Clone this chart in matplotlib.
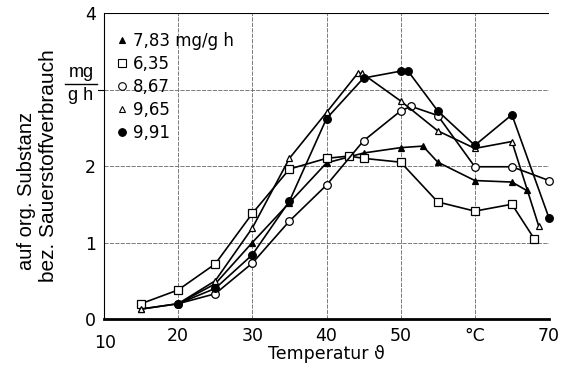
import matplotlib
matplotlib.use("Agg")
import matplotlib.pyplot as plt
from matplotlib.lines import Line2D

plt.rcParams["font.family"] = ["DejaVu Sans"]

# Sauerstoffverbrauch (mg/g h) ueber Temperatur, fuenf Versuchsreihen
t_783 = [15, 20, 25, 30, 35, 40, 45, 50, 53, 55, 60, 65, 67]
v_783 = [0.13, 0.20, 0.46, 1.00, 1.52, 2.04, 2.17, 2.24, 2.26, 2.05, 1.81, 1.79, 1.68]

t_635 = [15, 20, 25, 30, 35, 40, 43, 45, 50, 55, 60, 65, 68]
v_635 = [0.20, 0.38, 0.72, 1.38, 1.96, 2.10, 2.13, 2.10, 2.05, 1.53, 1.41, 1.50, 1.05]

t_867 = [20, 25, 30, 35, 40, 45, 50, 51.4, 55, 60, 65, 70]
v_867 = [0.20, 0.33, 0.73, 1.28, 1.75, 2.33, 2.72, 2.78, 2.66, 1.99, 1.99, 1.81]

t_965 = [15, 20, 25, 30, 35, 40, 44.2, 44.8, 50, 55, 60, 65, 68.6]
v_965 = [0.13, 0.20, 0.50, 1.19, 2.10, 2.70, 3.21, 3.21, 2.85, 2.46, 2.23, 2.32, 1.22]

t_991 = [20, 25, 30, 35, 40, 45, 50, 51, 55, 60, 65, 70]
v_991 = [0.20, 0.40, 0.84, 1.54, 2.62, 3.15, 3.24, 3.24, 2.72, 2.27, 2.67, 1.32]

series = [
    (t_783, v_783, "^", "k", "7,83 mg/g h"),
    (t_635, v_635, "s", "w", "6,35"),
    (t_867, v_867, "o", "w", "8,67"),
    (t_965, v_965, "^", "w", "9,65"),
    (t_991, v_991, "o", "k", "9,91"),
]
msize = {"^": 5.0, "s": 5.5, "o": 5.5}

fig = plt.figure(figsize=(5.66, 3.67), dpi=100)
ax = fig.add_axes([104 / 566, 48 / 367, 445 / 566, 306 / 367])
ax.set_xlim(10, 70)
ax.set_ylim(0, 4)

# gitter
for gx in [20, 30, 40, 50, 60, 70]:
    ax.axvline(gx, color="#666666", lw=0.6, ls=(0, (5, 1.5)), zorder=0)
for gy in [1, 2, 3]:
    ax.axhline(gy, color="#666666", lw=0.6, ls=(0, (5, 1.5)), zorder=0)
ax.axhline(4, color="k", lw=0.8, zorder=0)

handles = []
for t, v, m, fc, lab in series:
    ax.plot(t, v, color="k", lw=1.2, marker=m, ms=msize[m], mfc=fc,
            mec="k", mew=0.9, clip_on=False, zorder=3)
    handles.append(Line2D([], [], ls="none", marker=m, ms=msize[m],
                          mfc=fc, mec="k", mew=0.8))

leg = ax.legend(handles, [s[4] for s in series], loc="upper left",
                bbox_to_anchor=(0.0, 0.975), frameon=False, fontsize=12,
                handlelength=0.8, handletextpad=0.25, labelspacing=0.3,
                borderaxespad=0.3)

for side in ["top", "right"]:
    ax.spines[side].set_visible(False)
ax.spines["bottom"].set_linewidth(2.0)
ax.spines["left"].set_linewidth(0.8)

ax.set_xticks([20, 30, 40, 50, 60, 70])
ax.set_xticklabels(["20", "30", "40", "50", "°C", "70"], fontsize=12.5)
ax.set_yticks([0, 1, 2, 3, 4])
ax.set_yticklabels(["0", "1", "2", "", "4"], fontsize=12.5)
ax.tick_params(axis="x", length=0, pad=6)
ax.tick_params(axis="y", length=0, pad=6)
ax.text(10.2, -0.32, "10", ha="center", va="center", fontsize=12.5)
# kleiner strich bei 3
ax.plot([9.2, 10], [3, 3], color="k", lw=0.8, clip_on=False)

fig.text(326 / 566, 1 - 354 / 367, "Temperatur ϑ", ha="center", va="center",
         fontsize=12.5)

# einheit als bruch
fig.text(81 / 566, 1 - 81 / 367, "mg", ha="center", va="bottom", fontsize=13,
         family="Liberation Sans")
fig.text(81 / 566, 1 - 87 / 367, "g h", ha="center", va="top", fontsize=13,
         family="Liberation Sans")
fig.add_artist(Line2D([65 / 566, 97 / 566], [1 - 84 / 367, 1 - 84 / 367],
                      color="k", lw=1.0))

fig.text(27 / 566, 1 - 191 / 367, "auf org. Substanz", rotation=90,
         ha="center", va="center", fontsize=14.5, family="Liberation Sans")
fig.text(49 / 566, 1 - 166 / 367, "bez. Sauerstoffverbrauch", rotation=90,
         ha="center", va="center", fontsize=15, family="Liberation Sans")

fig.savefig("out.png", dpi=100)
